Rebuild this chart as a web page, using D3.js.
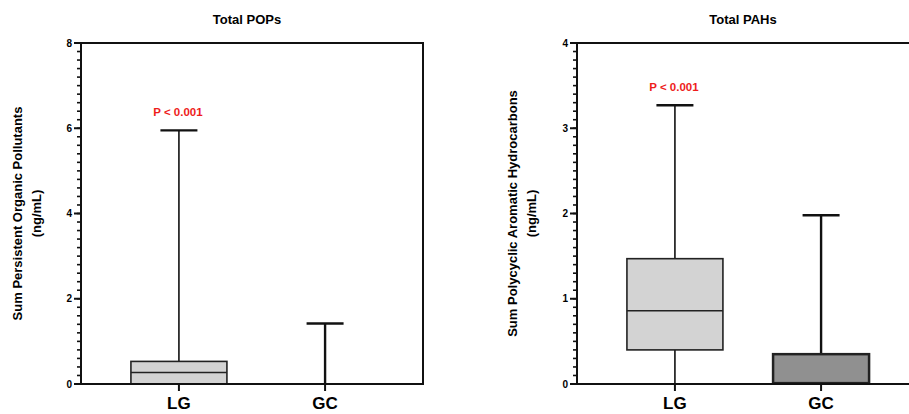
<!DOCTYPE html>
<html>
<head>
<meta charset="utf-8">
<script src="https://cdn.jsdelivr.net/npm/d3@7"></script>
<style>
  body { margin: 0; background: #fff; }
  svg { display: block; font-family: "Liberation Sans", Arial, sans-serif; }
</style>
</head>
<body>
<svg id="chart" width="909" height="414"></svg>
<script>
'use strict';

// groups on the x axis
var groups = ["LG", "GC"];

// Total POPs box stats (ng/mL): [min, q1, median, q3, max]
var popsLG = [0, 0, 0.27, 0.53, 5.95];
var popsGC = [0, 0, 0, 0, 1.42];

// Total PAHs box stats (ng/mL)
var pahsLG = [0, 0.40, 0.86, 1.47, 3.27];
var pahsGC = [0, 0.01, 0.01, 0.35, 1.98];

var popsTicks = [0, 2, 4, 6, 8];
var pahsTicks = [0, 1, 2, 3, 4];

var panels = [
    {
        title: "Total POPs",
        ylabel: ["Sum Persistent Organic Pollutants", "(ng/mL)"],
        boxes: [popsLG, popsGC],
        fills: ["#d3d3d3", "#d3d3d3"],
        ticks: popsTicks,
        minor: 0.2,
        left: 81,
        labelX: [17, 36],
        pvalue: "P < 0.001"
    },
    {
        title: "Total PAHs",
        ylabel: ["Sum Polycyclic Aromatic Hydrocarbons", "(ng/mL)"],
        boxes: [pahsLG, pahsGC],
        fills: ["#d3d3d3", "#909090"],
        ticks: pahsTicks,
        minor: 0.1,
        left: 577,
        labelX: [512, 531],
        pvalue: "P < 0.001"
    }
];

var svg = d3.select("#chart");

var plotTop = 43,
    plotBottom = 384,
    plotWidth = 342,
    boxWidth = 96,
    capWidth = 37;

panels.forEach(function (p) {
    var g = svg.append("g");

    var x = d3.scalePoint()
        .domain(groups)
        .range([p.left, p.left + plotWidth])
        .padding(0.67);

    var yMax = p.ticks[p.ticks.length - 1];
    var y = d3.scaleLinear()
        .domain([0, yMax])
        .range([plotBottom, plotTop]);

    // title
    g.append("text")
        .attr("x", p.left + plotWidth / 2 - 5)
        .attr("y", 24)
        .attr("text-anchor", "middle")
        .style("font-size", "13px")
        .style("font-weight", "bold")
        .text(p.title);

    // y label (two lines)
    p.ylabel.forEach(function (line, i) {
        g.append("text")
            .attr("transform", "translate(" + p.labelX[i] + "," + ((plotTop + plotBottom) / 2) + ") rotate(-90)")
            .attr("text-anchor", "middle")
            .attr("dy", "0.35em")
            .style("font-size", "13px")
            .style("font-weight", "bold")
            .text(line);
    });

    // boxes and whiskers
    p.boxes.forEach(function (b, i) {
        var cx = x(groups[i]);
        var thick = p.fills[i] === "#909090" ? 2.5 : 1.6;
        var whiskW = i === 1 ? 2.4 : 1.6;

        // upper whisker
        g.append("line")
            .attr("x1", cx).attr("x2", cx)
            .attr("y1", y(b[3])).attr("y2", y(b[4]))
            .attr("stroke", "#111").attr("stroke-width", whiskW);
        g.append("line")
            .attr("x1", cx - capWidth / 2).attr("x2", cx + capWidth / 2)
            .attr("y1", y(b[4])).attr("y2", y(b[4]))
            .attr("stroke", "#111").attr("stroke-width", 2.4);
        // lower whisker
        g.append("line")
            .attr("x1", cx).attr("x2", cx)
            .attr("y1", y(b[0])).attr("y2", y(b[1]))
            .attr("stroke", "#111").attr("stroke-width", whiskW);

        if (b[3] > b[1]) {
            g.append("rect")
                .attr("x", cx - boxWidth / 2)
                .attr("width", boxWidth)
                .attr("y", y(b[3]))
                .attr("height", y(b[1]) - y(b[3]))
                .attr("fill", p.fills[i])
                .attr("stroke", "#222")
                .attr("stroke-width", thick);
            g.append("line")
                .attr("x1", cx - boxWidth / 2).attr("x2", cx + boxWidth / 2)
                .attr("y1", y(b[2])).attr("y2", y(b[2]))
                .attr("stroke", "#222").attr("stroke-width", thick);
        }
    });

    // p-value above the LG whisker
    g.append("text")
        .attr("x", x("LG") - 1)
        .attr("y", y(p.boxes[0][4]) - 14)
        .attr("text-anchor", "middle")
        .attr("fill", "#ee1c1c")
        .style("font-size", "11.5px")
        .style("font-weight", "bold")
        .text(p.pvalue);

    // frame: top and right
    g.append("path")
        .attr("d", "M" + p.left + "," + plotTop + "H" + (p.left + plotWidth) + "V" + plotBottom)
        .attr("fill", "none")
        .attr("stroke", "#111")
        .attr("stroke-width", 2);

    // y axis with minor ticks
    var minorTicks = d3.range(0, yMax + p.minor / 2, p.minor);
    var ya = g.append("g");
    ya.selectAll("line.minor")
        .data(minorTicks)
        .enter().append("line")
        .attr("class", "minor")
        .attr("x1", p.left - 4).attr("x2", p.left)
        .attr("y1", function (d) { return y(d); })
        .attr("y2", function (d) { return y(d); })
        .attr("stroke", "#111").attr("stroke-width", 1.6);
    ya.selectAll("line.major")
        .data(p.ticks)
        .enter().append("line")
        .attr("class", "major")
        .attr("x1", p.left - 7).attr("x2", p.left)
        .attr("y1", function (d) { return y(d); })
        .attr("y2", function (d) { return y(d); })
        .attr("stroke", "#111").attr("stroke-width", 2);
    ya.selectAll("text")
        .data(p.ticks)
        .enter().append("text")
        .attr("x", p.left - 9)
        .attr("y", function (d) { return y(d); })
        .attr("dy", "0.35em")
        .attr("text-anchor", "end")
        .style("font-size", "10px")
        .style("font-weight", "bold")
        .text(function (d) { return d; });
    ya.append("line")
        .attr("x1", p.left).attr("x2", p.left)
        .attr("y1", plotTop - 1).attr("y2", plotBottom + 1)
        .attr("stroke", "#111").attr("stroke-width", 2);

    // x axis
    var xa = g.append("g");
    xa.append("line")
        .attr("x1", p.left - 1).attr("x2", p.left + plotWidth + 1)
        .attr("y1", plotBottom).attr("y2", plotBottom)
        .attr("stroke", "#111").attr("stroke-width", 2);
    xa.selectAll("line.tick")
        .data(groups)
        .enter().append("line")
        .attr("class", "tick")
        .attr("x1", function (d) { return x(d); })
        .attr("x2", function (d) { return x(d); })
        .attr("y1", plotBottom).attr("y2", plotBottom + 7)
        .attr("stroke", "#111").attr("stroke-width", 2);
    xa.selectAll("text")
        .data(groups)
        .enter().append("text")
        .attr("x", function (d) { return x(d); })
        .attr("y", plotBottom + 25)
        .attr("text-anchor", "middle")
        .style("font-size", "17px")
        .style("font-weight", "bold")
        .text(function (d) { return d; });
});
</script>
</body>
</html>
